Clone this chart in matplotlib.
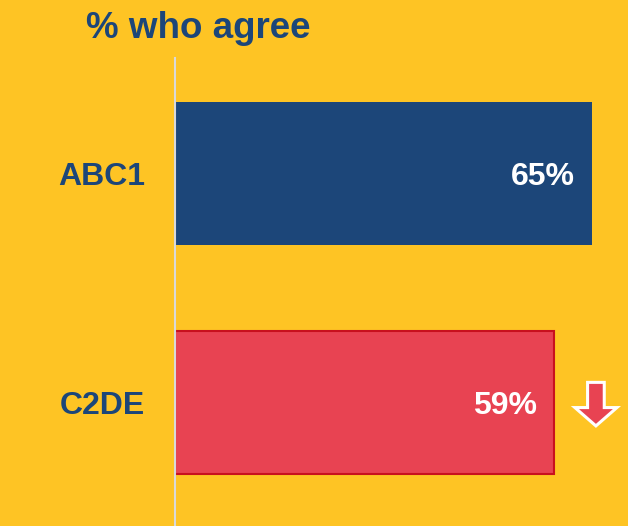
import matplotlib.pyplot as plt
from matplotlib.patches import FancyArrow

# data
groups = ['ABC1', 'C2DE']
agree_pct = [65, 59]
value_labels = ['65%', '59%']

BG = '#FEC424'
BLUE = '#1C4679'
RED = '#E84352'
RED_EDGE = '#C8101E'

plt.rcParams['font.family'] = ['Liberation Sans', 'DejaVu Sans']

fig = plt.figure(figsize=(6.28, 5.26), dpi=100, facecolor=BG)
ax = fig.add_axes([175 / 628, 0, 453 / 628, 468 / 526])
ax.set_facecolor(BG)

y = list(range(len(groups)))
bars = ax.barh(y, agree_pct, height=0.624, color=[BLUE, RED],
               edgecolor=[BLUE, RED_EDGE], linewidth=[0, 1.5])

ax.set_xlim(0, 70.6)
ax.set_ylim(1.539, -0.504)

for yi, val, lab in zip(y, agree_pct, value_labels):
    ax.text(val - 2.65, yi, lab, ha='right', va='center_baseline', color='white',
            fontsize=23, fontweight='bold')

# down arrow next to C2DE bar
arrow = FancyArrow(65.6, 0.912, 0, 0.19, width=2.6, head_width=6.55,
                   head_length=0.08, length_includes_head=True,
                   facecolor=RED, edgecolor='white', linewidth=2.2)
ax.add_patch(arrow)

ax.set_yticks(y)
ax.set_yticklabels(groups, fontsize=23, fontweight='bold', color=BLUE)
ax.tick_params(axis='y', length=0, pad=21.6)
ax.set_xticks([])

for s in ['top', 'right', 'bottom']:
    ax.spines[s].set_visible(False)
ax.spines['left'].set_color('#D9D9D9')
ax.spines['left'].set_linewidth(1.5)

fig.text(86 / 628, 1 - 38 / 526, '% who agree', fontsize=26.5, fontweight='bold',
         color=BLUE, ha='left', va='baseline')

fig.savefig('out.png', dpi=100, facecolor=BG)
